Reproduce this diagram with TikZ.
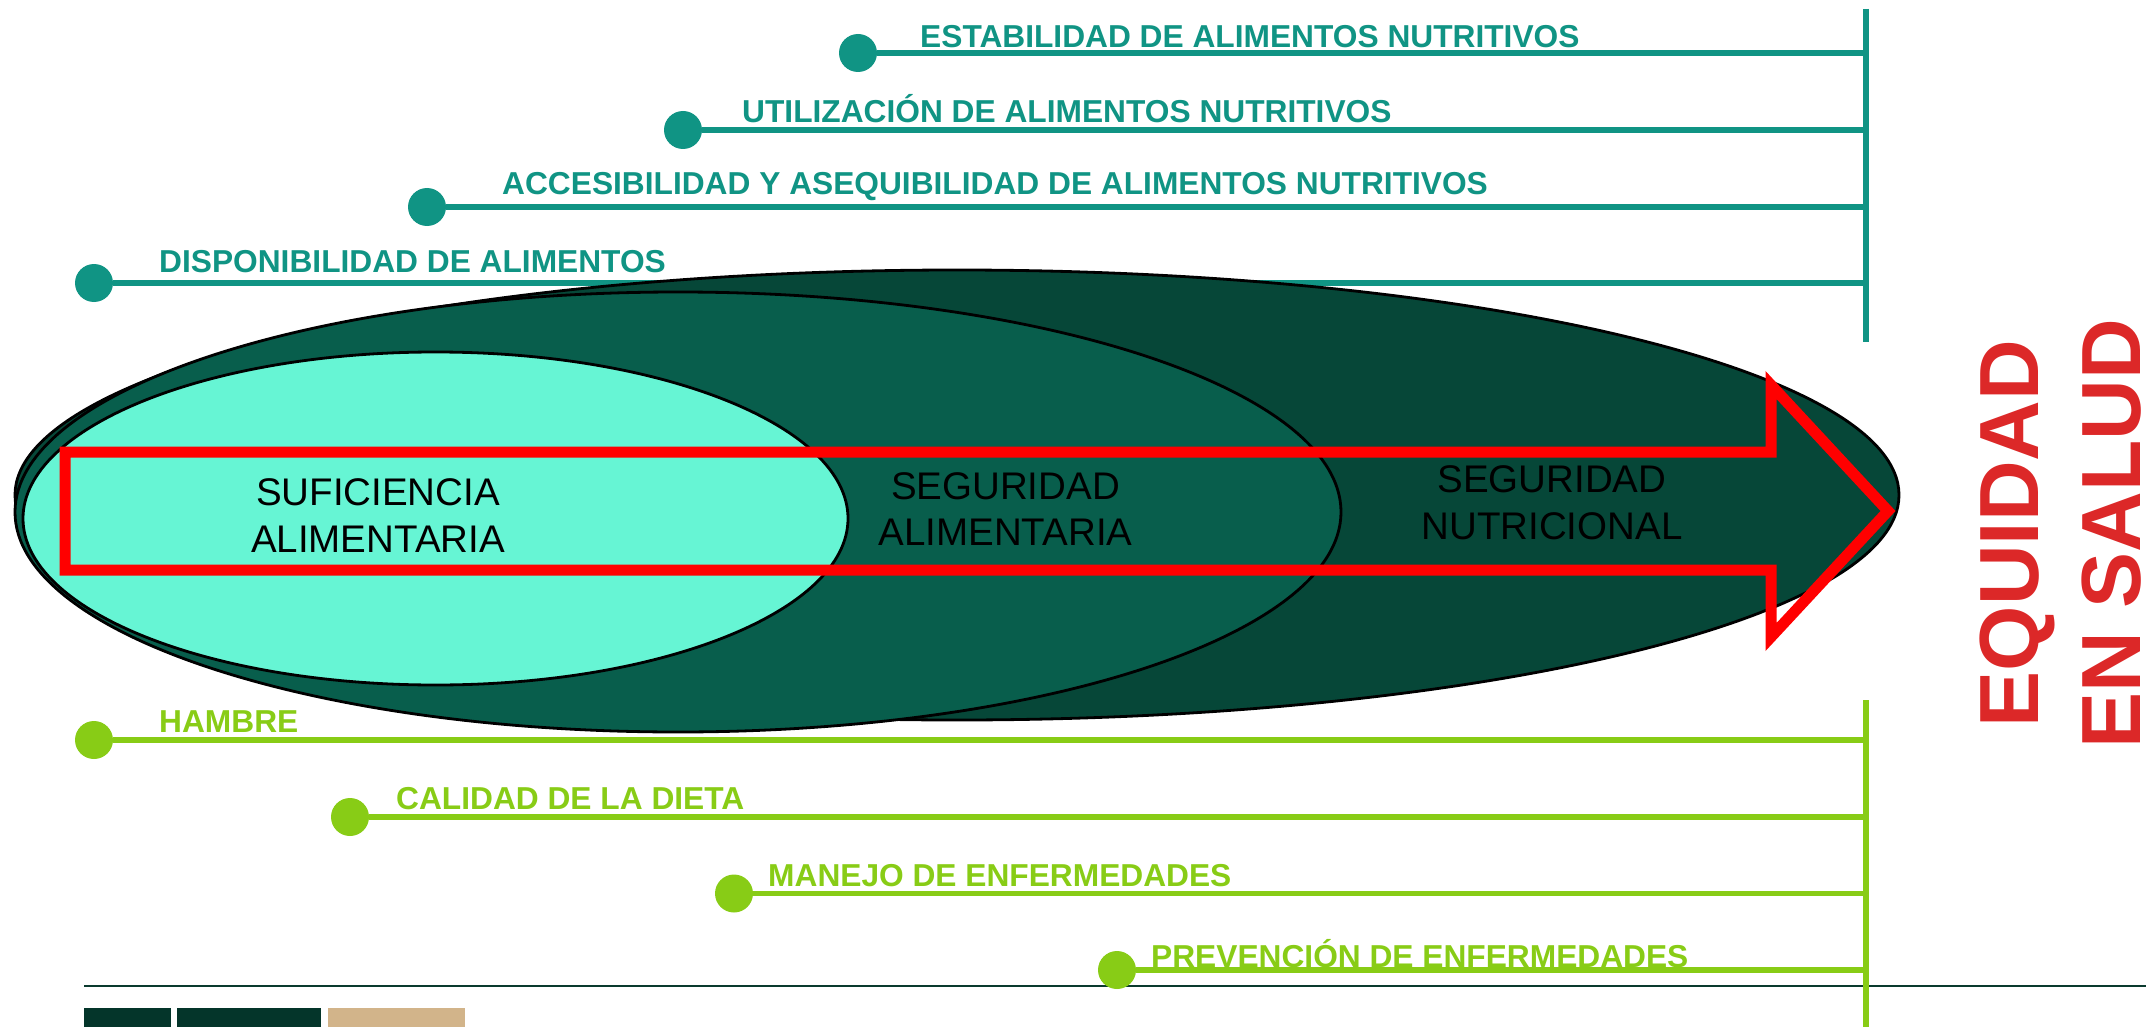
\documentclass[tikz,border=0pt]{standalone}
\usepackage{fontspec}
\setmainfont{Liberation Sans}
\usetikzlibrary{shapes.geometric}
\definecolor{tealc}{RGB}{16,148,132}
\definecolor{greenc}{RGB}{136,204,22}
\definecolor{outerc}{RGB}{6,71,56}
\definecolor{midc}{RGB}{8,94,76}
\definecolor{lightc}{RGB}{102,245,212}
\definecolor{redtext}{RGB}{220,40,40}
\definecolor{arrowred}{RGB}{255,0,0}
\definecolor{rulec}{RGB}{10,58,46}
\definecolor{boxdark}{RGB}{4,53,42}
\definecolor{boxtan}{RGB}{210,180,138}
\begin{document}
\begin{tikzpicture}[x=1pt,y=-1pt,
  tealline/.style={draw=tealc,line width=5.3pt},
  greenline/.style={draw=greenc,line width=5.3pt},
  tealdot/.style={circle,fill=tealc,minimum size=38pt,inner sep=0pt},
  greendot/.style={circle,fill=greenc,minimum size=38pt,inner sep=0pt},
  tlabel/.style={anchor=base west,inner sep=0pt,text=tealc,font=\fontsize{31.7}{38}\selectfont\bfseries},
  glabel/.style={anchor=base west,inner sep=0pt,text=greenc,font=\fontsize{31.7}{38}\selectfont\bfseries},
  elabel/.style={align=center,inner sep=0pt,text=black,font=\fontsize{38.5}{46.7}\selectfont},
  eqlabel/.style={rotate=90,anchor=base,inner sep=0pt,text=redtext,font=\fontsize{84}{103}\selectfont\bfseries},
  ellline/.style={draw=black,line width=2.8pt}
]
\useasboundingbox (0,0) rectangle (2146,1027);

% teal (top) branch
\coordinate (tvtop) at (1866,9);
\coordinate (tvbot) at (1866,342);
\draw[tealline] (tvtop) -- (tvbot);
\node[tealdot] (t1) at (94,283) {};
\node[tealdot] (t2) at (427,207) {};
\node[tealdot] (t3) at (683,130) {};
\node[tealdot] (t4) at (858,53) {};
\coordinate (t1e) at (1866,283);
\coordinate (t2e) at (1866,207);
\coordinate (t3e) at (1866,130);
\coordinate (t4e) at (1866,53);
\draw[tealline] (t1) -- (t1e);
\draw[tealline] (t2) -- (t2e);
\draw[tealline] (t3) -- (t3e);
\draw[tealline] (t4) -- (t4e);

% ellipses
\draw[ellline,fill=outerc] (957,495) ellipse [x radius=942,y radius=225];
\draw[ellline,fill=midc] (678,512) ellipse [x radius=663,y radius=220];
\draw[ellline,fill=lightc] (435.5,518.5) ellipse [x radius=412.5,y radius=166.5];

% red arrow outline
\draw[arrowred,line width=11pt,miter limit=10]
  (65,452) -- (1771,452) -- (1771,385) -- (1888,511) -- (1771,637) -- (1771,570) -- (65,570) -- cycle;

\node[elabel] (suf) at (378,515.3) {SUFICIENCIA\\ALIMENTARIA};
\node[elabel] (segal) at (1005.5,509) {SEGURIDAD\\ALIMENTARIA};
\node[elabel] (segnut) at (1552,502.5) {SEGURIDAD\\NUTRICIONAL};

% teal labels
\node[tlabel] (l1) at (159,272) {DISPONIBILIDAD DE ALIMENTOS};
\node[tlabel] (l2) at (502,195) {ACCESIBILIDAD Y ASEQUIBILIDAD DE ALIMENTOS NUTRITIVOS};
\node[tlabel] (l3) at (742,123) {UTILIZACIÓN DE ALIMENTOS NUTRITIVOS};
\node[tlabel] (l4) at (920,48) {ESTABILIDAD DE ALIMENTOS NUTRITIVOS};

% bottom rule and boxes
\coordinate (rl) at (84,986);
\coordinate (rr) at (2146,986);
\draw[rulec,line width=2.7pt] (rl) -- (rr);
\fill[boxdark] (84,1008) rectangle (171,1027);
\fill[boxdark] (177,1008) rectangle (321,1027);
\fill[boxtan] (328,1008) rectangle (465,1027);

% green (bottom) branch
\coordinate (gvtop) at (1866,700);
\coordinate (gvbot) at (1866,1030);
\draw[greenline] (gvtop) -- (gvbot);
\node[greendot] (g1) at (94,740) {};
\node[greendot] (g2) at (350,817) {};
\node[greendot] (g3) at (734,893.5) {};
\node[greendot] (g4) at (1117,970) {};
\coordinate (g1e) at (1866,740);
\coordinate (g2e) at (1866,817);
\coordinate (g3e) at (1866,893.5);
\coordinate (g4e) at (1866,970);
\draw[greenline] (g1) -- (g1e);
\draw[greenline] (g2) -- (g2e);
\draw[greenline] (g3) -- (g3e);
\draw[greenline] (g4) -- (g4e);
\node[glabel] (h1) at (159,732.7) {HAMBRE};
\node[glabel] (h2) at (396,809) {CALIDAD DE LA DIETA};
\node[glabel] (h3) at (768,886.7) {MANEJO DE ENFERMEDADES};
\node[glabel] (h4) at (1151,967.7) {PREVENCIÓN DE ENFERMEDADES};

% vertical title
\node[eqlabel] (eq1) at (2038,533.5) {EQUIDAD};
\node[eqlabel] (eq2) at (2140,533.5) {EN SALUD};
\end{tikzpicture}
\end{document}
